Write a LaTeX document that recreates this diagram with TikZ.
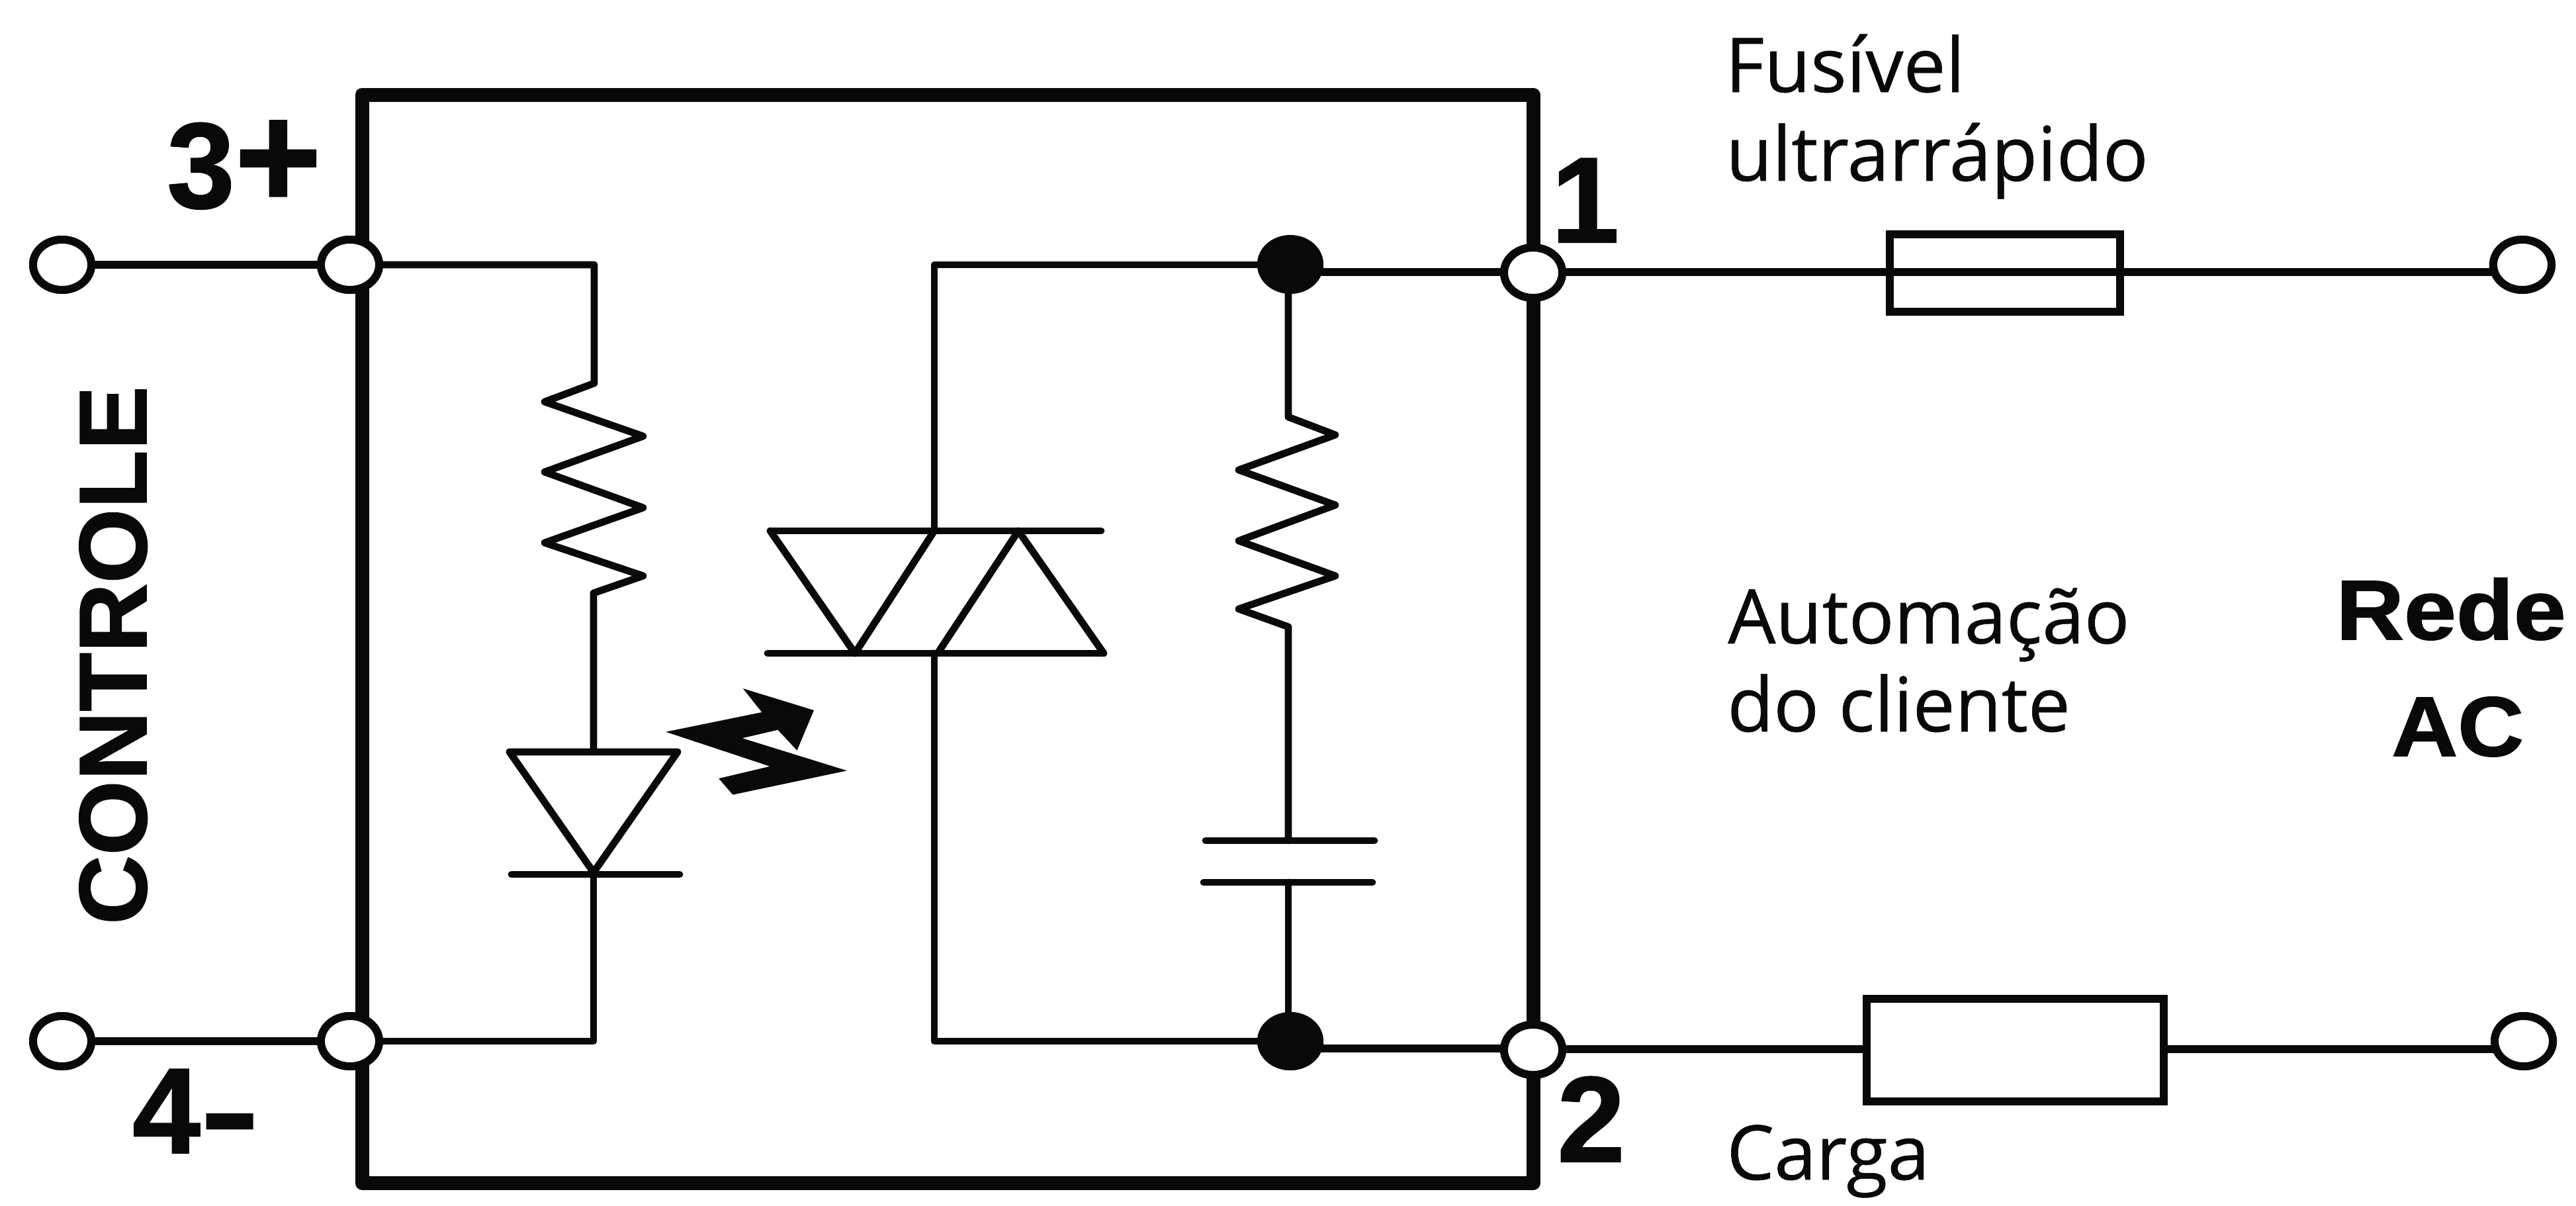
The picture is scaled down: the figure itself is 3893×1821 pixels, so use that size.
\documentclass[tikz,border=0pt]{standalone}
\usepackage{fontspec}
\setmainfont{Liberation Sans}
\newfontfamily\lightfont[FakeBold=0.5]{Open Sans}
\newfontfamily\heavyfont[FakeBold=1.2]{Liberation Sans Bold}
\usetikzlibrary{shapes.geometric}
\definecolor{ink}{HTML}{0A0909}
\tikzset{
  wire/.style={draw=ink,line width=5.4pt,line join=round,line cap=round},
  wirebutt/.style={draw=ink,line width=5.6pt,line cap=butt},
  term/.style={ellipse,draw=ink,fill=white,line width=6pt,inner sep=0pt,minimum width=44pt,minimum height=38pt},
  dot/.style={ellipse,fill=ink,inner sep=0pt,minimum width=50pt,minimum height=44pt},
  casebox/.style={rectangle,draw=ink,line width=10.5pt,inner sep=0pt,line join=round,minimum width=885pt,minimum height=822pt},
  part/.style={rectangle,draw=ink,line width=6pt,inner sep=0pt,line join=miter},
  lab/.style={inner sep=0pt,anchor=base west,text=ink,font=\lightfont\fontsize{57}{57}\selectfont},
  blab/.style={inner sep=0pt,anchor=base west,text=ink,font=\heavyfont\fontsize{92}{92}\selectfont},
}
\begin{document}
\begin{tikzpicture}[x=0.5pt,y=-0.5pt]
\useasboundingbox (0,0) rectangle (3893,1821);
\fill[white] (0,0) rectangle (3893,1821);

\node[casebox] (box) at (1432,965) {};

% circuit points
\coordinate (rA0) at (898,579);
\coordinate (rAe) at (897,896);
\coordinate (dT) at (897,1136);
\coordinate (dB) at (897,1321);
\coordinate (cT) at (1412,802);
\coordinate (cB) at (1412,987);
\coordinate (rB0) at (1947,630);
\coordinate (rBe) at (1947,947);
\coordinate (capT) at (1947,1270);
\coordinate (capB) at (1947,1333);
\coordinate (rAc) at (898,400);
\coordinate (dC) at (897,1573);
\coordinate (tcU) at (1412,400);
\coordinate (tcL) at (1412,1573);
\coordinate (dotAb) at (1947,400);
\coordinate (dotBt) at (1947,1573);
\coordinate (outA) at (1950,411);
\coordinate (outB) at (1950,1584);
\coordinate (endA) at (3770,411);
\coordinate (endB) at (3770,1585);

% terminals
\node[term] (tLa) at (94,400) {};
\node[term] (t3) at (529,400) {};
\node[term] (tLb) at (94,1573) {};
\node[term] (t4) at (529,1573) {};
\node[term] (t1) at (2317,412) {};
\node[term] (t2) at (2317,1586) {};
\node[term] (tRa) at (3812,400) {};
\node[term] (tRb) at (3814,1573) {};
\node[dot] (dotA) at (1950,400) {};
\node[dot] (dotB) at (1950,1573) {};

% left side wires
\draw[wirebutt] (tLa) -- (t3);
\draw[wire] (t3) -- (rAc) -- (rA0) -- (823,607) -- (972,659) -- (823,713) -- (972,767) -- (823,820) -- (972,870) -- (rAe) -- (dT);
\draw[wire] (dB) -- (dC) -- (t4);
\draw[wirebutt] (tLb) -- (t4);

% LED
\draw[wire] (770,1136) -- (1024,1136) -- (897,1318) -- cycle;
\draw[wire] (773,1321) -- (1027,1321);

% light arrows
\filldraw[ink,line width=1.5pt,line join=miter] (1012,1106) -- (1154,1077) -- (1127,1043) -- (1228,1074) -- (1204,1131) -- (1176,1101) -- (1116,1115) -- (1274,1164) -- (1108,1199) -- (1089,1177) -- (1169,1158) -- cycle;

% triac
\draw[wire] (dotA) -- (tcU) -- (cT);
\draw[wire] (1164,802) -- (1664,802);
\draw[wire] (1160,987) -- (1668,987);
\draw[wire] (1164,802) -- (1292,987) -- (1412,802);
\draw[wire] (1417,987) -- (1539,802) -- (1668,987);
\draw[wire] (cB) -- (tcL) -- (dotB);

% snubber
\draw[wire] (dotAb) -- (rB0) -- (2018,657) -- (1872,710) -- (2018,763) -- (1872,817) -- (2018,870) -- (1872,920) -- (rBe) -- (capT);
\draw[wire] (1822,1270) -- (2077,1270);
\draw[wire] (1819,1333) -- (2074,1333);
\draw[wire] (capB) -- (dotBt);

% output wires
\draw[wirebutt] (outA) -- (2317,411);
\draw[wirebutt] (outB) -- (2317,1584);
\draw[wirebutt] (2317,411) -- (endA);
\draw[wirebutt] (2317,1585) -- (endB);

% redraw dots, terminals on top
\node[dot] (dotAtop) at (1950,399) {};
\node[dot] (dotBtop) at (1950,1573) {};
\foreach \n/\x/\y in {a/94/400,b/529/400,c/94/1573,d/529/1573,e/2317/412,f/2317/1586,g/3812/400,h/3814/1573}
  \node[term] (ring\n) at (\x,\y) {};

% fuse and load
\node[part,minimum width=174pt,minimum height=58.5pt] (fuse) at (3030,412.5) {};
\node[part,fill=white,minimum width=224.5pt,minimum height=77.5pt] (load) at (3045.5,1586.5) {};

% texts
\node[blab] (n3) at (252,314) {3\scalebox{1.22}{+}};
\node[blab] (n4) at (200,1742) {4\scalebox{1.45}[1]{-}};
\node[blab] (n1) at (2344,366) {1};
\node[blab] (n2) at (2353,1755) {2};
\node[inner sep=0pt,anchor=base,rotate=90,text=ink,font=\heavyfont\fontsize{72.5}{72.5}\selectfont] (ctl) at (221,990) {CONTROLE};
\node[blab,font=\heavyfont\fontsize{64}{64}\selectfont] (rede) at (3530,966) {\scalebox{1.11}[1]{Rede}};
\node[blab,font=\heavyfont\fontsize{64}{64}\selectfont] (ac) at (3614,1142) {\scalebox{1.08}[1]{AC}};
\node[lab] (fus) at (2607,139) {Fusível};
\node[lab] (ult) at (2608,273) {ultrarrápido};
\node[lab] (aut) at (2611,972) {Automação};
\node[lab] (cli) at (2610,1105) {do cliente};
\node[lab] (car) at (2609,1782) {Carga};
\end{tikzpicture}
\end{document}
